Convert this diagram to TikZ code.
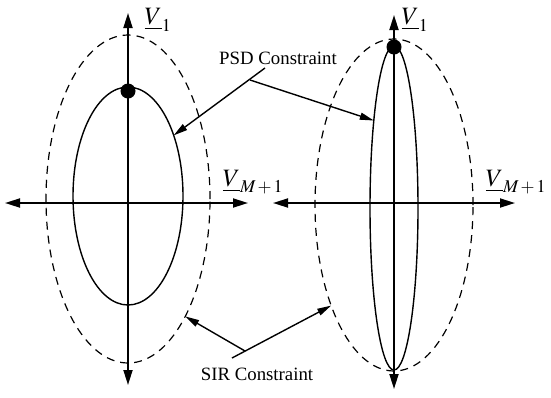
\documentclass[tikz,border=0pt]{standalone}
\usepackage{mathptmx}
\usepackage{fontspec}
\setmainfont{Liberation Serif}
\DeclareMathSizes{25}{25}{18}{14}
\usetikzlibrary{shapes.geometric,arrows.meta}
\begin{document}
\begin{tikzpicture}
[x=1pt, y=-1pt, font=\fontsize{18.8}{22}\selectfont]

\tikzstyle{axis}=[line width=1.8pt, <->, >={Triangle[length=15pt, width=9pt]}]
\tikzstyle{leader}=[line width=1.4pt, ->, >={Triangle[length=14pt, width=7pt]}]
\tikzstyle{psdcurve}=[ellipse, draw, line width=1.4pt, inner sep=0pt, outer sep=0pt]
\tikzstyle{sircurve}=[psdcurve, line width=1.2pt, dash pattern=on 8pt off 6pt]
\tikzstyle{dot}=[circle, fill, inner sep=0pt, minimum size=15pt]
\tikzstyle{axlabel}=[font=\fontsize{25}{28}\selectfont, inner sep=0pt]

\useasboundingbox (0,0) rectangle (551,397);

% left picture
\node[sircurve, minimum width=164pt, minimum height=328pt]	(sirL)	at (128,199)	{};
\node[psdcurve, minimum width=110pt, minimum height=218pt]	(psdL)	at (128,196)	{};
\coordinate (aLt) at (128,13);
\coordinate (aLb) at (128,385);
\coordinate (aLl) at (5,203);
\coordinate (aLr) at (248,203);
\draw [axis] (aLb)--(aLt);
\draw [axis] (aLl)--(aLr);
\node[dot]	(optL)	at (128,91)	{};
\node[axlabel]	(v1L)	at (158,20)	{$\underline{V}_1$};
\node[axlabel]	(vmL)	at (253,182)	{$\underline{V}_{M\,+\,1}$};

% right picture
\node[sircurve, minimum width=158pt, minimum height=332pt]	(sirR)	at (394,205)	{};
\node[psdcurve, minimum width=48pt, minimum height=324pt]	(psdR)	at (394,208)	{};
\coordinate (aRt) at (394,15);
\coordinate (aRb) at (394,389);
\coordinate (aRl) at (273,203);
\coordinate (aRr) at (515,203);
\draw [axis] (aRb)--(aRt);
\draw [axis] (aRl)--(aRr);
\node[dot]	(optR)	at (394,47)	{};
\node[axlabel]	(v1R)	at (415,20)	{$\underline{V}_1$};
\node[axlabel]	(vmR)	at (516,182)	{$\underline{V}_{M\,+\,1}$};

% labels
\node	(psd)	at (278,58)	{PSD Constraint};
\node	(sir)	at (257,374)	{SIR Constraint};
\coordinate (psdS) at (265,68);
\coordinate (psdJ) at (250,80);
\coordinate (sirS) at (232,358);
\coordinate (sirJ) at (245,351);
\draw [leader] (psdS)--(psdL.53);
\draw [leader] (psdJ)--(psdR.103);
\draw [leader] (sirS)--(sirR.238);
\draw [leader] (sirJ)--(sirL.-64);
\end{tikzpicture}
\end{document}
